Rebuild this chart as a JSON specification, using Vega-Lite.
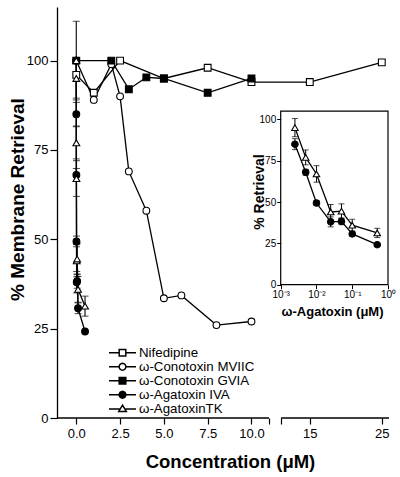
{
  "$schema": "https://vega.github.io/schema/vega-lite/v6.json",
  "width": 332,
  "height": 411,
  "autosize": "none",
  "padding": {"left": 57, "top": 7, "right": 11, "bottom": 59},
  "config": {
    "font": "Liberation Sans",
    "view": {"stroke": null},
    "axis": {"grid": false, "labelColor": "black", "titleColor": "black", "tickColor": "black", "domainColor": "black", "labelFont": "Liberation Sans", "titleFont": "Liberation Sans"}
  },
  "data": {
    "values": [
      {"drug": "Nifedipine", "x": 0, "y": 96},
      {"drug": "Nifedipine", "x": 1, "y": 91},
      {"drug": "Nifedipine", "x": 2.5, "y": 100},
      {"drug": "Nifedipine", "x": 5, "y": 95},
      {"drug": "Nifedipine", "x": 7.5, "y": 98},
      {"drug": "Nifedipine", "x": 10, "y": 94},
      {"drug": "Nifedipine", "x": 15, "y": 94},
      {"drug": "Nifedipine", "x": 25, "y": 99.5},
      {"drug": "ω-Conotoxin MVIIC", "x": 0, "y": 100},
      {"drug": "ω-Conotoxin MVIIC", "x": 1, "y": 89},
      {"drug": "ω-Conotoxin MVIIC", "x": 2, "y": 99},
      {"drug": "ω-Conotoxin MVIIC", "x": 2.5, "y": 90},
      {"drug": "ω-Conotoxin MVIIC", "x": 3, "y": 69},
      {"drug": "ω-Conotoxin MVIIC", "x": 4, "y": 58},
      {"drug": "ω-Conotoxin MVIIC", "x": 5, "y": 33.5},
      {"drug": "ω-Conotoxin MVIIC", "x": 6, "y": 34.3},
      {"drug": "ω-Conotoxin MVIIC", "x": 8, "y": 26},
      {"drug": "ω-Conotoxin MVIIC", "x": 10, "y": 27},
      {"drug": "ω-Conotoxin GVIA", "x": 0, "y": 100},
      {"drug": "ω-Conotoxin GVIA", "x": 2, "y": 100},
      {"drug": "ω-Conotoxin GVIA", "x": 3, "y": 92},
      {"drug": "ω-Conotoxin GVIA", "x": 4, "y": 95.3},
      {"drug": "ω-Conotoxin GVIA", "x": 5, "y": 95},
      {"drug": "ω-Conotoxin GVIA", "x": 7.5, "y": 91},
      {"drug": "ω-Conotoxin GVIA", "x": 10, "y": 95},
      {"drug": "ω-Agatoxin IVA", "x": 0, "y": 100, "err": 11},
      {"drug": "ω-Agatoxin IVA", "x": 0.0025, "y": 85, "err": 3.3},
      {"drug": "ω-Agatoxin IVA", "x": 0.005, "y": 68, "err": 1.8},
      {"drug": "ω-Agatoxin IVA", "x": 0.01, "y": 49.4, "err": 1.5},
      {"drug": "ω-Agatoxin IVA", "x": 0.025, "y": 38, "err": 3},
      {"drug": "ω-Agatoxin IVA", "x": 0.05, "y": 38.3, "err": 2},
      {"drug": "ω-Agatoxin IVA", "x": 0.1, "y": 30.7, "err": 1.5},
      {"drug": "ω-Agatoxin IVA", "x": 0.5, "y": 24.2},
      {"drug": "ω-AgatoxinTK", "x": 0, "y": 100},
      {"drug": "ω-AgatoxinTK", "x": 0.0025, "y": 95, "err": 5.5},
      {"drug": "ω-AgatoxinTK", "x": 0.005, "y": 77, "err": 4.5},
      {"drug": "ω-AgatoxinTK", "x": 0.01, "y": 67, "err": 5},
      {"drug": "ω-AgatoxinTK", "x": 0.025, "y": 44, "err": 4.5},
      {"drug": "ω-AgatoxinTK", "x": 0.05, "y": 44.5, "err": 4.4},
      {"drug": "ω-AgatoxinTK", "x": 0.1, "y": 36, "err": 3.6},
      {"drug": "ω-AgatoxinTK", "x": 0.5, "y": 31.3, "err": 2.8}
    ]
  },
  "layer": [
    {
      "layer": [
        {
          "mark": {"type": "line", "color": "black", "strokeWidth": 1.3},
          "encoding": {
            "x": {
              "field": "x", "type": "quantitative",
              "scale": {"domain": [-1.1, 11, 11.001, 26], "range": [0, 212, 224, 332], "nice": false, "zero": false},
              "axis": {
                "values": [0, 2.5, 5, 7.5, 10, 11, 11.001, 15, 25],
                "labelExpr": "datum.value <= 10 ? format(datum.value, '.1f') : (datum.value >= 15 ? format(datum.value, 'd') : '')",
                "domain": false, "tickSize": 6, "tickWidth": 1.2, "labelFontSize": 13, "labelPadding": 3,
                "labelFlush": false, "labelOverlap": false, "labelBound": false,
                "title": "Concentration (μM)", "titleFontSize": 18.5, "titleFontWeight": "bold",
                "titleX": 173, "titleY": 49, "titleBaseline": "alphabetic", "titleAlign": "center"
              }
            },
            "y": {
              "field": "y", "type": "quantitative",
              "scale": {"domain": [0, 115], "nice": false, "zero": false},
              "axis": {
                "values": [0, 25, 50, 75, 100], "domainWidth": 1.3, "tickSize": 7, "tickWidth": 1.2,
                "labelFontSize": 13, "labelPadding": 2,
                "title": "% Membrane Retrieval", "titleFontSize": 19, "titleFontWeight": "bold",
                "titleX": -34, "titleY": 192, "titleAngle": -90, "titleBaseline": "alphabetic", "titleAlign": "center"
              }
            },
            "detail": {"field": "drug"}
          }
        },
        {
          "data": {"values": [{}]},
          "mark": {"type": "rule", "color": "black", "strokeWidth": 1.3},
          "encoding": {
            "x": {"datum": -1.1, "type": "quantitative"},
            "x2": {"datum": 11},
            "y": {"datum": 0, "type": "quantitative"}
          }
        },
        {
          "data": {"values": [{}]},
          "mark": {"type": "rule", "color": "black", "strokeWidth": 1.3},
          "encoding": {
            "x": {"datum": 11.001, "type": "quantitative"},
            "x2": {"datum": 26},
            "y": {"datum": 0, "type": "quantitative"}
          }
        },
        {
          "transform": [{"filter": "isValid(datum.err)"}],
          "mark": {"type": "errorbar", "color": "black", "ticks": {"size": 7}, "rule": {"strokeWidth": 1.1}},
          "encoding": {
            "x": {"field": "x", "type": "quantitative", "title": "Concentration (μM)"},
            "y": {"field": "y", "type": "quantitative", "title": "% Membrane Retrieval"},
            "yError": {"field": "err"}
          }
        },
        {
          "mark": {"type": "point", "filled": true, "size": 46, "stroke": "black", "strokeWidth": 1.1, "opacity": 1},
          "encoding": {
            "x": {"field": "x", "type": "quantitative"},
            "y": {"field": "y", "type": "quantitative"},
            "shape": {
              "field": "drug", "type": "nominal",
              "scale": {"domain": ["Nifedipine", "ω-Conotoxin MVIIC", "ω-Conotoxin GVIA", "ω-Agatoxin IVA", "ω-AgatoxinTK"], "range": ["square", "circle", "square", "circle", "triangle-up"]},
              "legend": null
            },
            "fill": {
              "field": "drug", "type": "nominal",
              "scale": {"domain": ["Nifedipine", "ω-Conotoxin MVIIC", "ω-Conotoxin GVIA", "ω-Agatoxin IVA", "ω-AgatoxinTK"], "range": ["white", "white", "black", "black", "white"]},
              "legend": null
            }
          }
        },
        {
          "transform": [{"filter": "false"}],
          "mark": {"type": "point", "filled": true, "size": 729, "stroke": "black", "strokeWidth": 1.2, "opacity": 1},
          "encoding": {
            "x": {"field": "x", "type": "quantitative"},
            "y": {"field": "y", "type": "quantitative"},
            "shape": {
              "field": "drug", "type": "nominal",
              "scale": {
                "domain": ["Nifedipine", "ω-Conotoxin MVIIC", "ω-Conotoxin GVIA", "ω-Agatoxin IVA", "ω-AgatoxinTK"],
                "range": [
                  "M-1,0L-0.245,0M0.245,0L1,0M-0.245,-0.245L0.245,-0.245L0.245,0.245L-0.245,0.245Z",
                  "M-1,0L-0.25,0M0.25,0L1,0M0.25,0L0.231,0.0957L0.1768,0.1768L0.0957,0.231L0,0.25L-0.0957,0.231L-0.1768,0.1768L-0.231,0.0957L-0.25,0L-0.231,-0.0957L-0.1768,-0.1768L-0.0957,-0.231L0,-0.25L0.0957,-0.231L0.1768,-0.1768L0.231,-0.0957Z",
                  "M-1,0L-0.245,0M0.245,0L1,0M-0.245,-0.245L0.245,-0.245L0.245,0.245L-0.245,0.245Z",
                  "M-1,0L-0.25,0M0.25,0L1,0M0.25,0L0.231,0.0957L0.1768,0.1768L0.0957,0.231L0,0.25L-0.0957,0.231L-0.1768,0.1768L-0.231,0.0957L-0.25,0L-0.231,-0.0957L-0.1768,-0.1768L-0.0957,-0.231L0,-0.25L0.0957,-0.231L0.1768,-0.1768L0.231,-0.0957Z",
                  "M-1,0.02L-0.17,0.02M0.17,0.02L1,0.02M0,-0.27L0.28,0.2L-0.28,0.2Z"
                ]
              },
              "legend": {
                "title": null, "orient": "none", "legendX": 51, "legendY": 339, "padding": 0, "rowPadding": -1.7,
                "clipHeight": 13.5, "symbolSize": 729, "labelFontSize": 13.3, "labelOffset": 2, "labelColor": "black", "labelLimit": 300,
                "encode": {
                  "symbols": {
                    "update": {
                      "fill": {"signal": "(datum.value == 'ω-Conotoxin GVIA' || datum.value == 'ω-Agatoxin IVA') ? 'black' : 'white'"},
                      "stroke": {"value": "black"},
                      "strokeWidth": {"value": 1.2},
                      "opacity": {"value": 1}
                    }
                  }
                }
              }
            },
            "fill": {
              "field": "drug", "type": "nominal",
              "scale": {"domain": ["Nifedipine", "ω-Conotoxin MVIIC", "ω-Conotoxin GVIA", "ω-Agatoxin IVA", "ω-AgatoxinTK"], "range": ["white", "white", "black", "black", "white"]},
              "legend": null
            }
          }
        }
      ],
      "resolve": {
        "scale": {"shape": "independent", "fill": "independent"},
        "legend": {"shape": "independent", "fill": "independent"}
      }
    },
    {
      "transform": [{"filter": "datum.x > 0 && (datum.drug == 'ω-Agatoxin IVA' || datum.drug == 'ω-AgatoxinTK')"}],
      "layer": [
        {
          "mark": {"type": "line", "color": "black", "strokeWidth": 1.3},
          "encoding": {
            "x": {
              "field": "x", "type": "quantitative",
              "scale": {"type": "log", "domain": [0.001, 1], "range": [223.7, 331], "nice": false},
              "axis": {
                "orient": "bottom", "offset": -133.3, "values": [0.001, 0.01, 0.1, 1],
                "labelExpr": "datum.value < 0.005 ? '10⁻³' : (datum.value < 0.05 ? '10⁻²' : (datum.value < 0.5 ? '10⁻¹' : '10⁰'))",
                "domain": false, "tickSize": 4, "tickWidth": 1, "labelFontSize": 10, "labelPadding": 1,
                "labelFlush": false, "labelOverlap": false, "labelBound": false,
                "title": "ω-Agatoxin (μM)", "titleFontSize": 13, "titleFontWeight": "bold",
                "titleX": 275, "titleY": 31, "titleBaseline": "alphabetic", "titleAlign": "center"
              }
            },
            "y": {
              "field": "y", "type": "quantitative",
              "scale": {"domain": [0, 105], "range": [277.7, 104.1], "nice": false, "zero": false},
              "axis": {
                "orient": "left", "offset": -223.7, "values": [0, 25, 50, 75, 100],
                "domain": false, "tickSize": 4, "tickWidth": 1, "labelFontSize": 10, "labelPadding": 1,
                "title": "% Retrieval", "titleFontSize": 14, "titleFontWeight": "bold",
                "titleX": -17.7, "titleY": 184.5, "titleAngle": -90, "titleBaseline": "alphabetic", "titleAlign": "center"
              }
            },
            "detail": {"field": "drug"}
          }
        },
        {
          "data": {"values": [{}]},
          "mark": {"type": "rect", "filled": false, "stroke": "black", "strokeWidth": 1.2},
          "encoding": {
            "x": {"datum": 0.001, "type": "quantitative"},
            "x2": {"datum": 1},
            "y": {"datum": 0, "type": "quantitative"},
            "y2": {"datum": 105}
          }
        },
        {
          "transform": [{"filter": "isValid(datum.err)"}],
          "mark": {"type": "errorbar", "color": "black", "ticks": {"size": 6}, "rule": {"strokeWidth": 1}},
          "encoding": {
            "x": {"field": "x", "type": "quantitative", "title": "ω-Agatoxin (μM)"},
            "y": {"field": "y", "type": "quantitative", "title": "% Retrieval"},
            "yError": {"field": "err"}
          }
        },
        {
          "mark": {"type": "point", "filled": true, "size": 42, "stroke": "black", "strokeWidth": 1.1, "opacity": 1},
          "encoding": {
            "x": {"field": "x", "type": "quantitative"},
            "y": {"field": "y", "type": "quantitative"},
            "shape": {
              "field": "drug", "type": "nominal",
              "scale": {"domain": ["ω-Agatoxin IVA", "ω-AgatoxinTK"], "range": ["circle", "triangle-up"]},
              "legend": null
            },
            "fill": {
              "field": "drug", "type": "nominal",
              "scale": {"domain": ["ω-Agatoxin IVA", "ω-AgatoxinTK"], "range": ["black", "white"]},
              "legend": null
            }
          }
        }
      ]
    }
  ],
  "resolve": {
    "scale": {"x": "independent", "y": "independent", "shape": "independent", "fill": "independent"},
    "axis": {"x": "independent", "y": "independent"},
    "legend": {"shape": "independent", "fill": "independent"}
  }
}
